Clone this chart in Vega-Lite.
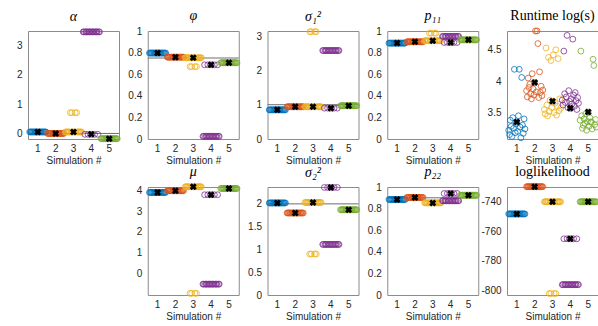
{
  "$schema": "https://vega.github.io/schema/vega-lite/v6.json",
  "padding": {"left": 15, "top": 8, "right": 0, "bottom": 0},
  "background": "white",
  "datasets": {
    "runs": [
      {"s":1,"r":1,"c":"1","rt":3.22},{"s":1,"r":2,"c":"1","rt":3.15},{"s":1,"r":3,"c":"1","rt":3.38},{"s":1,"r":4,"c":"1","rt":3.28},{"s":1,"r":5,"c":"1","rt":3.12},{"s":1,"r":6,"c":"1","rt":3.42},{"s":1,"r":7,"c":"1","rt":3.25},{"s":1,"r":8,"c":"1","rt":4.19},{"s":1,"r":9,"c":"1","rt":3.18},{"s":1,"r":10,"c":"1","rt":3.32},{"s":1,"r":11,"c":"1","rt":3.35,"best":true},{"s":1,"r":12,"c":"1","rt":3.2},{"s":1,"r":13,"c":"1","rt":3.45},{"s":1,"r":14,"c":"1","rt":4.19},{"s":1,"r":15,"c":"1","rt":3.27},{"s":1,"r":16,"c":"1","rt":3.1},{"s":1,"r":17,"c":"1","rt":4.06},{"s":1,"r":18,"c":"1","rt":3.3},{"s":1,"r":19,"c":"1","rt":3.17},{"s":1,"r":20,"c":"1","rt":3.4},{"s":1,"r":21,"c":"1","rt":3.24},
      {"s":2,"r":1,"c":"2","rt":3.85},{"s":2,"r":2,"c":"2","rt":3.75},{"s":2,"r":3,"c":"2","rt":4.05},{"s":2,"r":4,"c":"2","rt":3.9},{"s":2,"r":5,"c":"2","rt":3.95},{"s":2,"r":6,"c":"2","rt":3.8},{"s":2,"r":7,"c":"2","rt":3.72},{"s":2,"r":8,"c":"2","rt":4.12},{"s":2,"r":9,"c":"2","rt":3.88},{"s":2,"r":10,"c":"2","rt":3.78},{"s":2,"r":11,"c":"2","rt":3.98,"best":true},{"s":2,"r":12,"c":"2","rt":4.8},{"s":2,"r":13,"c":"2","rt":3.83},{"s":2,"r":14,"c":"2","rt":4.8},{"s":2,"r":15,"c":"2","rt":4.6},{"s":2,"r":16,"c":"2","rt":3.74},{"s":2,"r":17,"c":"2","rt":4.15},{"s":2,"r":18,"c":"2","rt":3.82},{"s":2,"r":19,"c":"2","rt":3.92},{"s":2,"r":20,"c":"2","rt":3.77},{"s":2,"r":21,"c":"2","rt":3.86},
      {"s":3,"r":1,"c":"3a","rt":3.55},{"s":3,"r":2,"c":"3a","rt":3.48},{"s":3,"r":3,"c":"3a","rt":4.53},{"s":3,"r":4,"c":"3a","rt":3.62},{"s":3,"r":5,"c":"3a","rt":3.45},{"s":3,"r":6,"c":"3a","rt":4.38},{"s":3,"r":7,"c":"3b","rt":3.52},{"s":3,"r":8,"c":"3a","rt":3.7},{"s":3,"r":9,"c":"3b","rt":4.33},{"s":3,"r":10,"c":"3a","rt":3.58},{"s":3,"r":11,"c":"3a","rt":3.68,"best":true},{"s":3,"r":12,"c":"3a","rt":4.42},{"s":3,"r":13,"c":"3b","rt":3.5},{"s":3,"r":14,"c":"3a","rt":3.65},{"s":3,"r":15,"c":"3b","rt":4.5},{"s":3,"r":16,"c":"3a","rt":3.46},{"s":3,"r":17,"c":"3a","rt":3.6},{"s":3,"r":18,"c":"3a","rt":4.36},{"s":3,"r":19,"c":"3a","rt":3.53},{"s":3,"r":20,"c":"3a","rt":3.72},{"s":3,"r":21,"c":"3a","rt":3.57},
      {"s":4,"r":1,"c":"4a","rt":3.7},{"s":4,"r":2,"c":"4a","rt":3.62},{"s":4,"r":3,"c":"4b","rt":4.48},{"s":4,"r":4,"c":"4a","rt":3.8},{"s":4,"r":5,"c":"4a","rt":3.66},{"s":4,"r":6,"c":"4a","rt":3.75},{"s":4,"r":7,"c":"4b","rt":4.73},{"s":4,"r":8,"c":"4a","rt":3.58},{"s":4,"r":9,"c":"4a","rt":3.85},{"s":4,"r":10,"c":"4a","rt":3.68},{"s":4,"r":11,"c":"4b","rt":3.57,"best":true},{"s":4,"r":12,"c":"4a","rt":3.72},{"s":4,"r":13,"c":"4a","rt":3.64},{"s":4,"r":14,"c":"4a","rt":4.67},{"s":4,"r":15,"c":"4b","rt":3.78},{"s":4,"r":16,"c":"4a","rt":3.6},{"s":4,"r":17,"c":"4a","rt":3.82},{"s":4,"r":18,"c":"4a","rt":3.69},{"s":4,"r":19,"c":"4b","rt":3.55},{"s":4,"r":20,"c":"4a","rt":3.74},{"s":4,"r":21,"c":"4a","rt":3.65},
      {"s":5,"r":1,"c":"5","rt":3.38},{"s":5,"r":2,"c":"5","rt":4.48},{"s":5,"r":3,"c":"5","rt":3.45},{"s":5,"r":4,"c":"5","rt":3.25},{"s":5,"r":5,"c":"5","rt":3.3},{"s":5,"r":6,"c":"5","rt":3.4},{"s":5,"r":7,"c":"5","rt":3.33},{"s":5,"r":8,"c":"5","rt":3.48},{"s":5,"r":9,"c":"5","rt":3.22},{"s":5,"r":10,"c":"5","rt":3.36},{"s":5,"r":11,"c":"5","rt":3.51,"best":true},{"s":5,"r":12,"c":"5","rt":3.28},{"s":5,"r":13,"c":"5","rt":3.42},{"s":5,"r":14,"c":"5","rt":3.35},{"s":5,"r":15,"c":"5","rt":3.35},{"s":5,"r":16,"c":"5","rt":3.24},{"s":5,"r":17,"c":"5","rt":4.35},{"s":5,"r":18,"c":"5","rt":4.25},{"s":5,"r":19,"c":"5","rt":3.31},{"s":5,"r":20,"c":"5","rt":3.39},{"s":5,"r":21,"c":"5","rt":3.27}
    ],
    "clusters": [
      {"c":"1","a":0.05,"phi":0.796,"s1":0.85,"p11":0.888,"mu":3.89,"s2":2.02,"p22":0.884,"ll":-748.2},
      {"c":"2","a":0.0,"phi":0.758,"s1":0.94,"p11":0.9,"mu":3.97,"s2":1.8,"p22":0.903,"ll":-729.8},
      {"c":"3a","a":0.05,"phi":0.752,"s1":0.94,"p11":0.91,"mu":4.16,"s2":2.03,"p22":0.853,"ll":-740},
      {"c":"3b","a":0.71,"phi":0.67,"s1":3.13,"p11":0.98,"mu":-0.94,"s2":0.9,"p22":0.853,"ll":-802},
      {"c":"4a","a":3.47,"phi":0.025,"s1":2.58,"p11":0.95,"mu":-0.5,"s2":1.11,"p22":0.872,"ll":-796},
      {"c":"4b","a":-0.03,"phi":0.687,"s1":0.9,"p11":0.894,"mu":3.78,"s2":2.36,"p22":0.94,"ll":-765},
      {"c":"5","a":-0.18,"phi":0.706,"s1":0.97,"p11":0.918,"mu":4.08,"s2":1.87,"p22":0.924,"ll":-740}
    ],
    "truth": [
      {"p":"a","v":0},{"p":"phi","v":0.75},{"p":"s1","v":1},{"p":"s2","v":2},{"p":"p22","v":0.9}
    ]
  },
  "data": {"name": "runs"},
  "transform": [
    {"lookup": "c", "from": {"data": {"name": "clusters"}, "key": "c", "fields": ["a","phi","s1","p11","mu","s2","p22","ll"]}}
  ],
  "columns": 5,
  "spacing": {"row": 48, "column": 28.75},
  "bounds": "flush",
  "concat": [
    {
      "width": 91, "height": 108,
      "title": {"text": "α", "fontStyle": "italic"},
      "layer": [
        {"data": {"name": "truth"}, "transform": [{"filter": "datum.p == 'a'"}], "mark": {"type": "rule", "color": "#6e6e6e", "strokeWidth": 1}, "encoding": {"y": {"field": "v", "type": "quantitative", "axis": {"title": null, "values": [0,1,2,3], "format": "~g", "labelOverlap": false, "labelBound": false}}}},
        {"mark": {"type": "point", "filled": false, "size": 34, "strokeWidth": 0.8, "opacity": 1}, "encoding": {
          "x": {"field": "s", "type": "ordinal", "scale": {"type": "band", "paddingInner": 0, "paddingOuter": 0.05}, "axis": {"title": "Simulation #", "labelAngle": 0}},
          "xOffset": {"field": "r", "type": "ordinal", "scale": {"type": "point", "padding": 5}},
          "y": {"field": "a", "type": "quantitative", "scale": {"domain": [-0.19, 3.5], "nice": false, "zero": false}, "axis": {"title": null, "values": [0,1,2,3], "format": "~g", "labelOverlap": false, "labelBound": false}},
          "color": {"field": "s", "type": "nominal", "legend": null}}},
        {"transform": [{"filter": "datum.best"}], "mark": {"type": "point", "shape": "cross", "angle": 45, "filled": true, "color": "black", "size": 50, "opacity": 1}, "encoding": {
          "x": {"field": "s", "type": "ordinal"},
          "y": {"field": "a", "type": "quantitative", "axis": {"title": null, "values": [0,1,2,3], "format": "~g", "labelOverlap": false, "labelBound": false}}}}
      ]
    },
    {
      "width": 91, "height": 108,
      "title": {"text": "φ", "fontStyle": "italic"},
      "layer": [
        {"data": {"name": "truth"}, "transform": [{"filter": "datum.p == 'phi'"}], "mark": {"type": "rule", "color": "#6e6e6e", "strokeWidth": 1}, "encoding": {"y": {"field": "v", "type": "quantitative", "axis": {"title": null, "values": [0,0.2,0.4,0.6,0.8,1], "format": "~g", "labelOverlap": false, "labelBound": false}}}},
        {"mark": {"type": "point", "filled": false, "size": 34, "strokeWidth": 0.8, "opacity": 1}, "encoding": {
          "x": {"field": "s", "type": "ordinal", "scale": {"type": "band", "paddingInner": 0, "paddingOuter": 0.05}, "axis": {"title": "Simulation #", "labelAngle": 0}},
          "xOffset": {"field": "r", "type": "ordinal", "scale": {"type": "point", "padding": 5}},
          "y": {"field": "phi", "type": "quantitative", "scale": {"domain": [0, 1], "nice": false, "zero": false}, "axis": {"title": null, "values": [0,0.2,0.4,0.6,0.8,1], "format": "~g", "labelOverlap": false, "labelBound": false}},
          "color": {"field": "s", "type": "nominal", "legend": null}}},
        {"transform": [{"filter": "datum.best"}], "mark": {"type": "point", "shape": "cross", "angle": 45, "filled": true, "color": "black", "size": 50, "opacity": 1}, "encoding": {
          "x": {"field": "s", "type": "ordinal"},
          "y": {"field": "phi", "type": "quantitative", "axis": {"title": null, "values": [0,0.2,0.4,0.6,0.8,1], "format": "~g", "labelOverlap": false, "labelBound": false}}}}
      ]
    },
    {
      "width": 91, "height": 108,
      "title": {"text": "σ₁²", "fontStyle": "italic"},
      "layer": [
        {"data": {"name": "truth"}, "transform": [{"filter": "datum.p == 's1'"}], "mark": {"type": "rule", "color": "#6e6e6e", "strokeWidth": 1}, "encoding": {"y": {"field": "v", "type": "quantitative", "axis": {"title": null, "values": [0,1,2,3], "format": "~g", "labelOverlap": false, "labelBound": false}}}},
        {"mark": {"type": "point", "filled": false, "size": 34, "strokeWidth": 0.8, "opacity": 1}, "encoding": {
          "x": {"field": "s", "type": "ordinal", "scale": {"type": "band", "paddingInner": 0, "paddingOuter": 0.05}, "axis": {"title": "Simulation #", "labelAngle": 0}},
          "xOffset": {"field": "r", "type": "ordinal", "scale": {"type": "point", "padding": 5}},
          "y": {"field": "s1", "type": "quantitative", "scale": {"domain": [0, 3.15], "nice": false, "zero": false}, "axis": {"title": null, "values": [0,1,2,3], "format": "~g", "labelOverlap": false, "labelBound": false}},
          "color": {"field": "s", "type": "nominal", "legend": null}}},
        {"transform": [{"filter": "datum.best"}], "mark": {"type": "point", "shape": "cross", "angle": 45, "filled": true, "color": "black", "size": 50, "opacity": 1}, "encoding": {
          "x": {"field": "s", "type": "ordinal"},
          "y": {"field": "s1", "type": "quantitative", "axis": {"title": null, "values": [0,1,2,3], "format": "~g", "labelOverlap": false, "labelBound": false}}}}
      ]
    },
    {
      "width": 91, "height": 108,
      "title": {"text": "p₁₁", "fontStyle": "italic"},
      "layer": [
        {"mark": {"type": "point", "filled": false, "size": 34, "strokeWidth": 0.8, "opacity": 1}, "encoding": {
          "x": {"field": "s", "type": "ordinal", "scale": {"type": "band", "paddingInner": 0, "paddingOuter": 0.05}, "axis": {"title": "Simulation #", "labelAngle": 0}},
          "xOffset": {"field": "r", "type": "ordinal", "scale": {"type": "point", "padding": 5}},
          "y": {"field": "p11", "type": "quantitative", "scale": {"domain": [0, 1], "nice": false, "zero": false}, "axis": {"title": null, "values": [0,0.2,0.4,0.6,0.8,1], "format": "~g", "labelOverlap": false, "labelBound": false}},
          "color": {"field": "s", "type": "nominal", "legend": null}}},
        {"transform": [{"filter": "datum.best"}], "mark": {"type": "point", "shape": "cross", "angle": 45, "filled": true, "color": "black", "size": 50, "opacity": 1}, "encoding": {
          "x": {"field": "s", "type": "ordinal"},
          "y": {"field": "p11", "type": "quantitative", "axis": {"title": null, "values": [0,0.2,0.4,0.6,0.8,1], "format": "~g", "labelOverlap": false, "labelBound": false}}}}
      ]
    },
    {
      "width": 91, "height": 108,
      "title": {"text": "Runtime log(s)"},
      "layer": [
        {"mark": {"type": "point", "filled": false, "size": 34, "strokeWidth": 0.8, "opacity": 1}, "encoding": {
          "x": {"field": "s", "type": "ordinal", "scale": {"type": "band", "paddingInner": 0, "paddingOuter": 0.05}, "axis": {"title": "Simulation #", "labelAngle": 0}},
          "xOffset": {"field": "r", "type": "ordinal", "scale": {"type": "point", "padding": 5}},
          "y": {"field": "rt", "type": "quantitative", "scale": {"domain": [3.08, 4.8], "nice": false, "zero": false}, "axis": {"title": null, "values": [3.5,4,4.5], "format": "~g", "labelOverlap": false, "labelBound": false}},
          "color": {"field": "s", "type": "nominal", "legend": null}}},
        {"transform": [{"filter": "datum.best"}], "mark": {"type": "point", "shape": "cross", "angle": 45, "filled": true, "color": "black", "size": 50, "opacity": 1}, "encoding": {
          "x": {"field": "s", "type": "ordinal"},
          "y": {"field": "rt", "type": "quantitative", "axis": {"title": null, "values": [3.5,4,4.5], "format": "~g", "labelOverlap": false, "labelBound": false}}}}
      ]
    },
    {
      "width": 91, "height": 108,
      "view": {"stroke": null},
      "mark": {"type": "point", "opacity": 0},
      "encoding": {}
    },
    {
      "width": 91, "height": 108,
      "title": {"text": "μ", "fontStyle": "italic"},
      "layer": [
        {"mark": {"type": "point", "filled": false, "size": 34, "strokeWidth": 0.8, "opacity": 1}, "encoding": {
          "x": {"field": "s", "type": "ordinal", "scale": {"type": "band", "paddingInner": 0, "paddingOuter": 0.05}, "axis": {"title": "Simulation #", "labelAngle": 0}},
          "xOffset": {"field": "r", "type": "ordinal", "scale": {"type": "point", "padding": 5}},
          "y": {"field": "mu", "type": "quantitative", "scale": {"domain": [-1.02, 4.15], "nice": false, "zero": false}, "axis": {"title": null, "values": [0,1,2,3,4], "format": "~g", "labelOverlap": false, "labelBound": false}},
          "color": {"field": "s", "type": "nominal", "legend": null}}},
        {"transform": [{"filter": "datum.best"}], "mark": {"type": "point", "shape": "cross", "angle": 45, "filled": true, "color": "black", "size": 50, "opacity": 1}, "encoding": {
          "x": {"field": "s", "type": "ordinal"},
          "y": {"field": "mu", "type": "quantitative", "axis": {"title": null, "values": [0,1,2,3,4], "format": "~g", "labelOverlap": false, "labelBound": false}}}}
      ]
    },
    {
      "width": 91, "height": 108,
      "title": {"text": "σ₂²", "fontStyle": "italic"},
      "layer": [
        {"data": {"name": "truth"}, "transform": [{"filter": "datum.p == 's2'"}], "mark": {"type": "rule", "color": "#6e6e6e", "strokeWidth": 1}, "encoding": {"y": {"field": "v", "type": "quantitative", "axis": {"title": null, "values": [0,0.5,1,1.5,2], "format": "~g", "labelOverlap": false, "labelBound": false}}}},
        {"mark": {"type": "point", "filled": false, "size": 34, "strokeWidth": 0.8, "opacity": 1}, "encoding": {
          "x": {"field": "s", "type": "ordinal", "scale": {"type": "band", "paddingInner": 0, "paddingOuter": 0.05}, "axis": {"title": "Simulation #", "labelAngle": 0}},
          "xOffset": {"field": "r", "type": "ordinal", "scale": {"type": "point", "padding": 5}},
          "y": {"field": "s2", "type": "quantitative", "scale": {"domain": [0, 2.37], "nice": false, "zero": false}, "axis": {"title": null, "values": [0,0.5,1,1.5,2], "format": "~g", "labelOverlap": false, "labelBound": false}},
          "color": {"field": "s", "type": "nominal", "legend": null}}},
        {"transform": [{"filter": "datum.best"}], "mark": {"type": "point", "shape": "cross", "angle": 45, "filled": true, "color": "black", "size": 50, "opacity": 1}, "encoding": {
          "x": {"field": "s", "type": "ordinal"},
          "y": {"field": "s2", "type": "quantitative", "axis": {"title": null, "values": [0,0.5,1,1.5,2], "format": "~g", "labelOverlap": false, "labelBound": false}}}}
      ]
    },
    {
      "width": 91, "height": 108,
      "title": {"text": "p₂₂", "fontStyle": "italic"},
      "layer": [
        {"data": {"name": "truth"}, "transform": [{"filter": "datum.p == 'p22'"}], "mark": {"type": "rule", "color": "#6e6e6e", "strokeWidth": 1}, "encoding": {"y": {"field": "v", "type": "quantitative", "axis": {"title": null, "values": [0,0.2,0.4,0.6,0.8,1], "format": "~g", "labelOverlap": false, "labelBound": false}}}},
        {"mark": {"type": "point", "filled": false, "size": 34, "strokeWidth": 0.8, "opacity": 1}, "encoding": {
          "x": {"field": "s", "type": "ordinal", "scale": {"type": "band", "paddingInner": 0, "paddingOuter": 0.05}, "axis": {"title": "Simulation #", "labelAngle": 0}},
          "xOffset": {"field": "r", "type": "ordinal", "scale": {"type": "point", "padding": 5}},
          "y": {"field": "p22", "type": "quantitative", "scale": {"domain": [0, 1], "nice": false, "zero": false}, "axis": {"title": null, "values": [0,0.2,0.4,0.6,0.8,1], "format": "~g", "labelOverlap": false, "labelBound": false}},
          "color": {"field": "s", "type": "nominal", "legend": null}}},
        {"transform": [{"filter": "datum.best"}], "mark": {"type": "point", "shape": "cross", "angle": 45, "filled": true, "color": "black", "size": 50, "opacity": 1}, "encoding": {
          "x": {"field": "s", "type": "ordinal"},
          "y": {"field": "p22", "type": "quantitative", "axis": {"title": null, "values": [0,0.2,0.4,0.6,0.8,1], "format": "~g", "labelOverlap": false, "labelBound": false}}}}
      ]
    },
    {
      "width": 91, "height": 108,
      "title": {"text": "loglikelihood"},
      "layer": [
        {"mark": {"type": "point", "filled": false, "size": 34, "strokeWidth": 0.8, "opacity": 1}, "encoding": {
          "x": {"field": "s", "type": "ordinal", "scale": {"type": "band", "paddingInner": 0, "paddingOuter": 0.05}, "axis": {"title": "Simulation #", "labelAngle": 0}},
          "xOffset": {"field": "r", "type": "ordinal", "scale": {"type": "point", "padding": 5}},
          "y": {"field": "ll", "type": "quantitative", "scale": {"domain": [-803, -730], "nice": false, "zero": false}, "axis": {"title": null, "values": [-800,-780,-760,-740], "labelExpr": "replace(datum.label, '−', '-')", "labelOverlap": false, "labelBound": false}},
          "color": {"field": "s", "type": "nominal", "legend": null}}},
        {"transform": [{"filter": "datum.best"}], "mark": {"type": "point", "shape": "cross", "angle": 45, "filled": true, "color": "black", "size": 50, "opacity": 1}, "encoding": {
          "x": {"field": "s", "type": "ordinal"},
          "y": {"field": "ll", "type": "quantitative", "axis": {"title": null, "values": [-800,-780,-760,-740], "labelExpr": "replace(datum.label, '−', '-')", "labelOverlap": false, "labelBound": false}}}}
      ]
    }
  ],
  "config": {
    "view": {"stroke": "#8c8c8c", "strokeWidth": 1},
    "range": {"category": ["#0072BD", "#D95319", "#EDB120", "#7E2F8E", "#77AC30"]},
    "axis": {"domain": false, "grid": false, "ticks": false, "labelOverlap": false, "labelBound": false, "labelColor": "#262626", "labelFont": "Liberation Sans", "labelFontSize": 10, "titleFont": "Liberation Sans", "titleFontSize": 10, "titleFontWeight": "normal", "titleColor": "#262626", "titlePadding": 2},
    "axisQuantitative": {"labelOverlap": false},
    "axisX": {"labelPadding": 4},
    "axisY": {"labelPadding": 6, "labelOverlap": false},
    "title": {"font": "Liberation Serif", "fontSize": 14, "fontWeight": "normal", "color": "#000000", "offset": 3}
  }
}
